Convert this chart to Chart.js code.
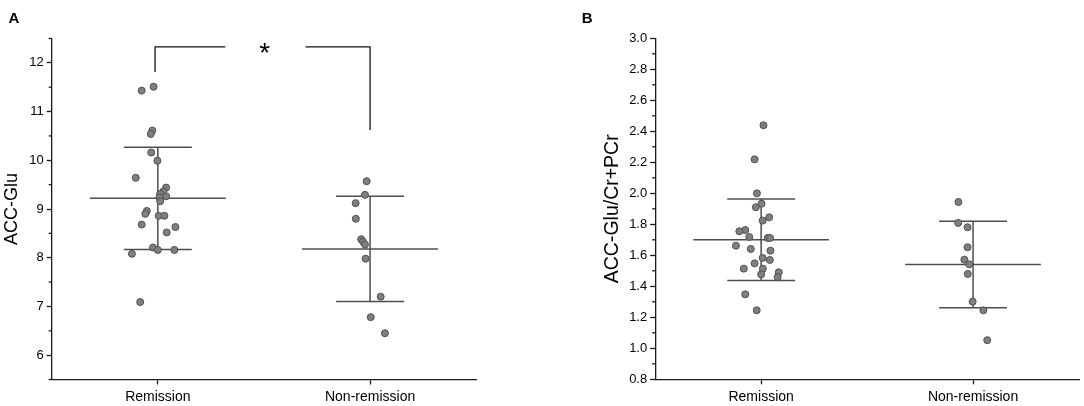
<!DOCTYPE html>
<html lang="en">
<head>
  <meta charset="UTF-8" />
  <title>ACC-Glu: Remission vs Non-remission</title>
  <style>
    body { margin: 0; background: #fff; overflow: hidden; }
    .row { display: flex; width: 1084px; height: 406px; }
    canvas { display: block; }
  </style>
  <script src="https://cdn.jsdelivr.net/npm/chart.js"></script>
</head>
<body>
  <div class="row">
    <canvas id="chartA" width="540" height="406"></canvas>
    <canvas id="chartB" width="544" height="406"></canvas>
  </div>
  <script>
    // CATEGORIES
    const groups = ['Remission', 'Non-remission'];

    // PANEL A: ACC-Glu (x = jittered group position, y = value)
    const aRemX = [0.980, 0.924, 0.974, 0.967, 0.969, 0.998, 0.896, 1.039, 1.026, 1.011, 1.039, 1.008, 1.011,
                   0.948, 0.941, 1.004, 1.031, 0.924, 1.083, 1.042, 0.977, 1.000, 1.078, 0.878, 0.917];
    const aRemY = [11.51, 11.43, 10.61, 10.54, 10.16, 9.99, 9.64, 9.44, 9.36, 9.31, 9.26, 9.24, 9.16,
                   8.96, 8.90, 8.86, 8.86, 8.68, 8.63, 8.52, 8.21, 8.16, 8.16, 8.08, 7.09];
    const aNonX = [1.984, 1.976, 1.932, 1.933, 1.958, 1.967, 1.976, 1.979, 2.050, 2.003, 2.070];
    const aNonY = [9.57, 9.29, 9.12, 8.80, 8.38, 8.33, 8.27, 7.98, 7.20, 6.78, 6.45];
    const aMean = [9.22, 8.18];
    const aSD = [1.05, 1.08];
    const aTicks = [6, 7, 8, 9, 10, 11, 12];
    const aMinor = [5.5, 6.5, 7.5, 8.5, 9.5, 10.5, 11.5, 12.5];

    // significance bracket + star (panel A)
    const sigLeft = [[0.987, 11.81], [0.987, 12.33], [1.318, 12.33]];
    const sigRight = [[1.696, 12.33], [2.0, 12.33], [2.0, 10.62]];
    const sigStar = [1.504, 12.33];

    // PANEL B: ACC-Glu/Cr+PCr
    const bRemX = [1.011, 0.969, 0.980, 1.002, 0.975, 1.038, 1.007, 0.925, 0.897, 0.944, 1.031, 1.042, 0.881,
                   0.951, 1.044, 1.007, 1.041, 0.969, 0.918, 1.008, 1.083, 1.000, 1.078, 0.925, 0.979];
    const bRemY = [2.439, 2.219, 2.000, 1.933, 1.910, 1.845, 1.824, 1.763, 1.755, 1.718, 1.712, 1.712, 1.662,
                   1.641, 1.630, 1.583, 1.570, 1.548, 1.514, 1.514, 1.490, 1.477, 1.458, 1.348, 1.245];
    const bNonX = [1.931, 1.930, 1.974, 1.974, 1.959, 1.982, 1.975, 1.998, 2.049, 2.067];
    const bNonY = [1.944, 1.809, 1.781, 1.652, 1.572, 1.542, 1.480, 1.301, 1.245, 1.052];
    const bMean = [1.70, 1.54];
    const bSD = [0.263, 0.279];
    const bTicks = [0.8, 1.0, 1.2, 1.4, 1.6, 1.8, 2.0, 2.2, 2.4, 2.6, 2.8, 3.0];
    const bMinor = [0.9, 1.1, 1.3, 1.5, 1.7, 1.9, 2.1, 2.3, 2.5, 2.7, 2.9];

    // STYLE
    const FONT = "'Liberation Sans', Arial, sans-serif";
    const AXIS = '#1a1a1a';
    const LINE = '#4d4d4d';

    const toPts = (xs, ys) => xs.map((x, i) => ({ x, y: ys[i] }));

    function dots(xs, ys) {
      return {
        data: toPts(xs, ys),
        pointRadius: 3.5,
        pointBackgroundColor: '#7f7f7f',
        pointBorderColor: '#505050',
        pointBorderWidth: 1,
        showLine: false
      };
    }

    function seg(points, color, width) {
      return {
        data: points.map(p => ({ x: p[0], y: p[1] })),
        showLine: true,
        pointRadius: 0,
        borderColor: color,
        borderWidth: width,
        fill: false
      };
    }

    // mean line, SD caps and vertical SD bar per group
    function meanSd(means, sds) {
      const out = [];
      means.forEach((m, i) => {
        const c = i + 1, s = sds[i];
        out.push(seg([[c - 0.32, m], [c + 0.32, m]], LINE, 1.5));
        out.push(seg([[c - 0.16, m + s], [c + 0.16, m + s]], LINE, 1.5));
        out.push(seg([[c - 0.16, m - s], [c + 0.16, m - s]], LINE, 1.5));
        out.push(seg([[c, m - s], [c, m + s]], LINE, 1.5));
      });
      return out;
    }

    // minor ticks, panel letter, star
    const extras = {
      id: 'extras',
      afterDraw(chart, args, opts) {
        const ctx = chart.ctx, y = chart.scales.y, x = chart.scales.x;
        const left = chart.chartArea.left;
        ctx.save();
        ctx.strokeStyle = AXIS;
        ctx.lineWidth = 1.3;
        opts.minor.forEach(v => {
          const py = y.getPixelForValue(v);
          ctx.beginPath();
          ctx.moveTo(left - 3, py);
          ctx.lineTo(left, py);
          ctx.stroke();
        });
        ctx.fillStyle = '#000';
        ctx.font = 'bold 15px ' + FONT;
        ctx.textAlign = 'left';
        ctx.textBaseline = 'alphabetic';
        ctx.fillText(opts.letter, opts.letterX, 23);
        if (opts.star) {
          ctx.font = '28px ' + FONT;
          ctx.textAlign = 'center';
          const m = ctx.measureText('*');
          const cy = y.getPixelForValue(opts.star[1]) + 1.6;
          ctx.fillText('*', x.getPixelForValue(opts.star[0]), cy + (m.actualBoundingBoxAscent - m.actualBoundingBoxDescent) / 2);
        }
        ctx.restore();
      }
    };

    function makeChart(id, cfg) {
      return new Chart(document.getElementById(id), {
        type: 'scatter',
        data: { datasets: cfg.datasets },
        options: {
          responsive: false,
          animation: false,
          layout: { padding: cfg.padding },
          plugins: {
            legend: { display: false },
            tooltip: { enabled: false },
            extras: cfg.extras
          },
          scales: {
            x: {
              type: 'linear',
              min: 0.5,
              max: 2.5,
              afterBuildTicks: s => { s.ticks = groups.map((g, i) => ({ value: i + 1 })); },
              afterFit: s => { s.height = cfg.xHeight; },
              ticks: {
                callback: v => groups[v - 1],
                color: '#000',
                padding: 4,
                font: { family: FONT, size: 14 }
              },
              grid: { drawOnChartArea: false, tickLength: 5, tickColor: AXIS, tickWidth: 1.3 },
              border: { color: AXIS, width: 1.3 }
            },
            y: {
              type: 'linear',
              min: cfg.yMin,
              max: cfg.yMax,
              afterBuildTicks: s => { s.ticks = cfg.yTicks.map(v => ({ value: v })); },
              afterFit: s => { s.width = cfg.yWidth; },
              ticks: {
                callback: cfg.yFormat,
                color: '#000',
                padding: 3,
                font: { family: FONT, size: 13 }
              },
              title: {
                display: true,
                text: cfg.yTitle,
                color: '#000',
                padding: { top: 1, bottom: 0 },
                font: { family: FONT, size: cfg.yTitleSize }
              },
              grid: { drawOnChartArea: false, tickLength: 5, tickColor: AXIS, tickWidth: 1.3 },
              border: { color: AXIS, width: 1.3 }
            }
          }
        },
        plugins: [extras]
      });
    }

    makeChart('chartA', {
      datasets: [
        dots(aRemX, aRemY),
        dots(aNonX, aNonY),
        ...meanSd(aMean, aSD),
        seg(sigLeft, '#111', 1.3),
        seg(sigRight, '#111', 1.3)
      ],
      padding: { left: 0, right: 63.8, top: 38.5, bottom: 0 },
      xHeight: 26.5,
      yWidth: 51.7,
      yMin: 5.5,
      yMax: 12.5,
      yTicks: aTicks,
      yFormat: v => String(v),
      yTitle: 'ACC-Glu',
      yTitleSize: 18,
      extras: { minor: aMinor, letter: 'A', letterX: 8.5, star: sigStar }
    });

    makeChart('chartB', {
      datasets: [
        dots(bRemX, bRemY),
        dots(bNonX, bNonY),
        ...meanSd(bMean, bSD)
      ],
      padding: { left: 60.2, right: 4.4, top: 38.3, bottom: 0 },
      xHeight: 26.7,
      yWidth: 55,
      yMin: 0.8,
      yMax: 3.0,
      yTicks: bTicks,
      yFormat: v => v.toFixed(1),
      yTitle: 'ACC-Glu/Cr+PCr',
      yTitleSize: 19.5,
      extras: { minor: bMinor, letter: 'B', letterX: 41.8, star: null }
    });
  </script>
</body>
</html>
